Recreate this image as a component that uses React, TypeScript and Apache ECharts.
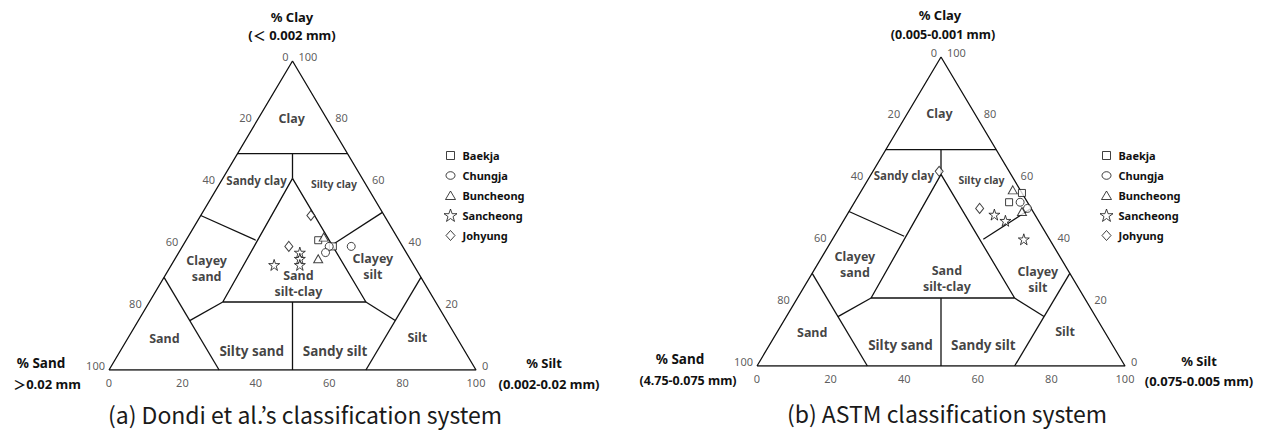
import React, { useEffect, useRef } from "react";
import * as echarts from "echarts";

// ---- Data (ternary coordinates: [sand, silt, clay] in %) ----
const outline = [[100, 0, 0], [0, 100, 0], [0, 0, 100], [100, 0, 0]];
const clayLine = [[30, 0, 70], [0, 30, 70]];
const clayStem = [[15, 15, 70], [19, 19, 62]];
const centralTriangle = [[19, 19, 62], [58, 20, 22], [19, 59, 22], [19, 19, 62]];
const sandLine = [[70, 30, 0], [70, 0, 30]];
const siltLine = [[30, 70, 0], [0, 70, 30]];
const sandyClayDivider = [[50, 0, 50], [39, 19, 42]];
const siltyClayDivider = [[18, 41, 41], [0, 49, 51]];
const clayeySandDivider = [[58, 20, 22], [70, 14, 16]];
const clayeySiltDivider = [[19, 59, 22], [14, 70, 16]];
const sandySiltDivider = [[39, 39, 22], [50, 50, 0]];
const boundaries = [outline, clayLine, clayStem, centralTriangle, sandLine, siltLine,
  sandyClayDivider, siltyClayDivider, clayeySandDivider, clayeySiltDivider, sandySiltDivider];

const regionNames = ["Clay", "Sandy clay", "Silty clay", "Clayey\nsand", "Sand\nsilt-clay",
  "Clayey\nsilt", "Sand", "Silty sand", "Sandy silt", "Silt"];

const tickValues = [0, 20, 40, 60, 80, 100];

const sampleNames = ["Baekja", "Chungja", "Buncheong", "Sancheong", "Johyung"];

// Dondi et al. classification samples
const dondiBaekja = [[22, 36, 42], [19, 41, 40]];
const dondiChungja = [[20, 40, 40], [22, 40, 38], [14, 46, 40]];
const dondiBuncheong = [[20, 37, 43], [25, 39, 36]];
const dondiSancheong = [[29, 33, 38], [30, 34, 36], [31, 35, 34], [38, 28, 34]];
const dondiJohyung = [[20, 30, 50], [31, 29, 40]];

// ASTM classification samples
const astmBaekja = [[0, 44, 56], [5, 42, 53]];
const astmChungja = [[2, 45, 53], [1, 48, 51]];
const astmBuncheong = [[2, 41, 57], [3, 47, 50]];
const astmSancheong = [[11, 40, 49], [9, 44, 47], [7, 52, 41]];
const astmJohyung = [[19, 18, 63], [14, 35, 51]];

// ---- Layout (positions in chart coords: x along base, y = clay height) ----
const dondiLabelPos = [[49.8, 81.4], [40.2, 61.3], [61.3, 60.2], [26.6, 32.9], [51.6, 28.1],
  [71.9, 33.6], [15.1, 10.3], [38.9, 6.2], [61.6, 6.2], [84, 10.6]];
const astmLabelPos = [[49.6, 81.7], [39.9, 61.6], [61, 60.3], [26.6, 32.9], [51.6, 28.2],
  [76.3, 28], [15, 10.8], [39, 6.8], [61.5, 6.8], [83.7, 11.2]];
const labelSizes: Record<string, number> = { "Sandy clay": 11.5, "Silty clay": 10.5, "Silty sand": 13.5, "Sandy silt": 13.5 };

const STAR = "path://M50,2 L61,37 L98,37 L68,58 L79,94 L50,72 L21,94 L32,58 L2,37 L39,37 Z";
const symbols = ["rect", "circle", "triangle", STAR, "diamond"];
const symbolSizes: any[] = [7, 8, [9, 8], 11, [8, 10]];
// legend icons drawn inside a 14x14 box
const legendIcons = [
  "path://M0,0 M14,14 M3,3 L11,3 L11,11 L3,11 Z",
  "path://M0,0 M14,14 M11.5,7 A4.5,3.8 0 1 1 2.5,7 A4.5,3.8 0 1 1 11.5,7 Z",
  "path://M0,0 M14,14 M7,2.5 L12,11 L2,11 Z",
  "path://M0,0 M14,14 M7,0.5 L8.6,5.2 L13.5,5.2 L9.5,8.1 L11,12.9 L7,10 L3,12.9 L4.5,8.1 L0.5,5.2 L5.4,5.2 Z",
  "path://M0,0 M14,14 M7,2 L11.5,7 L7,12 L2.5,7 Z",
];

const FONT = '"Noto Sans", "Noto Sans CJK KR", sans-serif';
const NUMFONT = '"Liberation Sans Narrow", "Noto Sans", sans-serif';
const CAPFONT = '"Noto Sans CJK KR", "Noto Sans", sans-serif';
const INK = "#111";

const toXY = (p: number[]) => [p[1] + p[2] / 2, p[2]];

function buildSeries(g: number, samples: number[][][], labelPos: number[][]) {
  const s: any[] = [];
  boundaries.forEach((b) => {
    s.push({
      type: "line", xAxisIndex: g, yAxisIndex: g, data: b.map(toXY), symbol: "none",
      silent: true, z: 1, lineStyle: { color: INK, width: 1.3 },
    });
  });
  s.push({
    type: "scatter", xAxisIndex: g, yAxisIndex: g, symbolSize: 0, silent: true, z: 3,
    data: regionNames.map((n, i) => ({
      name: n, value: labelPos[i],
      label: labelSizes[n] ? { fontSize: labelSizes[n] } : undefined,
    })),
    label: {
      show: true, position: "inside", formatter: "{b}", fontWeight: "bold", fontSize: 12.5,
      lineHeight: 16, color: INK, fontFamily: FONT, textBorderWidth: 0,
    },
  });
  const tickLabel = {
    show: true, formatter: "{b}", fontSize: 11, color: "#333", fontFamily: NUMFONT, textBorderWidth: 0,
  };
  // left edge: % Sand
  s.push({
    type: "scatter", xAxisIndex: g, yAxisIndex: g, symbolSize: 0, silent: true,
    itemStyle: { color: "#333" },
    data: tickValues.map((v) => ({ name: String(v), value: toXY([v, 0, 100 - v]) })),
    label: { ...tickLabel, position: "left", distance: 4, offset: [0, -5] },
  });
  // right edge: % Clay
  s.push({
    type: "scatter", xAxisIndex: g, yAxisIndex: g, symbolSize: 0, silent: true,
    itemStyle: { color: "#333" },
    data: tickValues.map((v) => ({ name: String(v), value: toXY([0, 100 - v, v]) })),
    label: { ...tickLabel, position: "right", distance: 6, offset: [0, -5] },
  });
  // base: % Silt
  s.push({
    type: "scatter", xAxisIndex: g, yAxisIndex: g, symbolSize: 0, silent: true,
    itemStyle: { color: "#333" },
    data: tickValues.map((v) => ({ name: String(v), value: toXY([100 - v, v, 0]) })),
    label: { ...tickLabel, position: "bottom", distance: 7 },
  });
  sampleNames.forEach((n, i) => {
    s.push({
      type: "scatter", name: n, xAxisIndex: g, yAxisIndex: g, symbol: symbols[i],
      symbolSize: symbolSizes[i], data: samples[i].map(toXY), z: 5,
      itemStyle: { color: "#fff", borderColor: INK, borderWidth: 1 },
    });
  });
  return s;
}

function text(x: number, y: number, t: string, size: number, weight: any = "bold", family: string = FONT, fill: string = INK) {
  return {
    type: "text", x, y, silent: true,
    style: {
      text: t, fontSize: size, fontWeight: weight, fontFamily: family, fill,
      align: "center", verticalAlign: "middle", textAlign: "center", textVerticalAlign: "middle",
    },
  };
}

export default function App() {
  const ref = useRef<HTMLDivElement>(null);
  useEffect(() => {
    if (!ref.current) return;
    const chart = echarts.init(ref.current, undefined, { renderer: "svg" });
    const axis = (g: number) => ({ type: "value", min: 0, max: 100, show: false, gridIndex: g });
    const legend = (left: number) => ({
      orient: "vertical", left, top: 148, padding: 0, itemWidth: 14, itemHeight: 14, itemGap: 5,
      selectedMode: false,
      data: sampleNames.map((n, i) => ({
        name: n, icon: legendIcons[i],
        itemStyle: { color: "#fff", borderColor: INK, borderWidth: 1 },
      })),
      textStyle: { fontSize: 11, fontWeight: "bold", color: INK, fontFamily: FONT, lineHeight: 14 },
    });
    chart.setOption({
      animation: false,
      backgroundColor: "#fff",
      grid: [
        { left: 109, top: 61, width: 367, height: 309 },
        { left: 757, top: 57, width: 368, height: 309 },
      ],
      xAxis: [axis(0), axis(1)],
      yAxis: [axis(0), axis(1)],
      legend: [legend(443), legend(1099)],
      series: [
        ...buildSeries(0, [dondiBaekja, dondiChungja, dondiBuncheong, dondiSancheong, dondiJohyung], dondiLabelPos),
        ...buildSeries(1, [astmBaekja, astmChungja, astmBuncheong, astmSancheong, astmJohyung], astmLabelPos),
      ],
      graphic: [
        text(292, 17, "% Clay", 13),
        text(292, 35, "(\uFF1C 0.002 mm)", 13),
        text(41, 363, "% Sand", 13.5),
        text(47, 384, "\uFF1E0.02 mm", 13),
        text(544, 363, "% Silt", 13),
        text(549, 384, "(0.002-0.02 mm)", 13),
        text(305, 414, "(a) Dondi et al.\u2019s classification system", 23, "normal", CAPFONT, "#1a1a1a"),
        text(940, 15, "% Clay", 13),
        text(943, 34, "(0.005-0.001 mm)", 12.5),
        text(680, 359, "% Sand", 13.5),
        text(688, 380, "(4.75-0.075 mm)", 12.5),
        text(1199, 361, "% Silt", 13),
        text(1199, 381, "(0.075-0.005 mm)", 13),
        text(947, 413, "(b) ASTM classification system", 23, "normal", CAPFONT, "#1a1a1a"),
      ],
    });
    return () => chart.dispose();
  }, []);
  return <div ref={ref} style={{ position: "absolute", left: 0, top: 0, width: 1263, height: 430 }} />;
}
